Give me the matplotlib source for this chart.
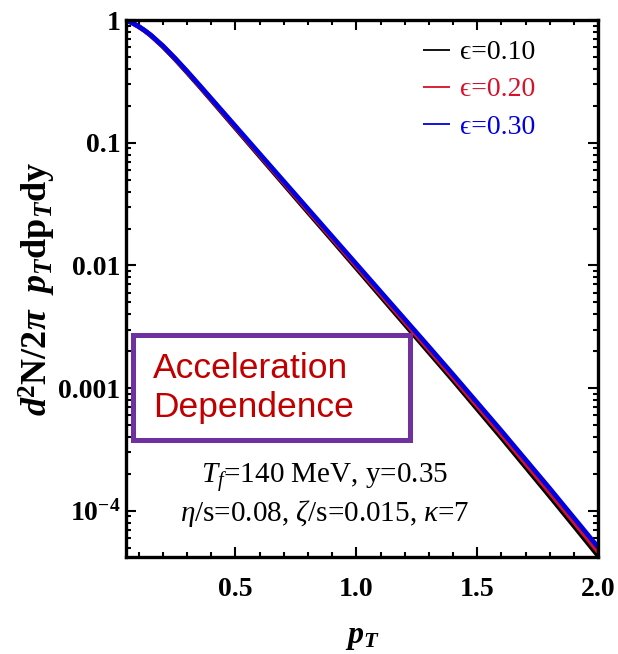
import matplotlib
matplotlib.use("Agg")
import numpy as np
import matplotlib.pyplot as plt
from matplotlib.patches import Rectangle
from matplotlib.ticker import FixedLocator, MultipleLocator, LogLocator, NullFormatter, FixedFormatter

plt.rcParams["mathtext.fontset"] = "custom"
plt.rcParams["mathtext.rm"] = "Liberation Serif"
plt.rcParams["mathtext.it"] = "Liberation Serif:italic"
plt.rcParams["mathtext.bf"] = "Liberation Serif:bold"
plt.rcParams["mathtext.bfit"] = "Liberation Serif:italic:bold"

# transverse momentum grid (GeV)
pt = [0.05, 0.075, 0.10, 0.125, 0.15, 0.20, 0.25, 0.30, 0.35, 0.40,
      0.50, 0.60, 0.70, 0.80, 0.90, 1.00, 1.10, 1.20, 1.30, 1.40,
      1.50, 1.60, 1.70, 1.80, 1.90, 2.00]

# log10 of the normalised spectrum for each acceleration parameter
log_eps_010 = [0.0, -0.023, -0.052, -0.085, -0.124, -0.214, -0.316, -0.425, -0.536, -0.650,
               -0.879, -1.108, -1.337, -1.566, -1.793, -2.022, -2.251, -2.480, -2.709, -2.938,
               -3.172, -3.406, -3.645, -3.884, -4.126, -4.370]
log_eps_020 = [0.0, -0.023, -0.051, -0.084, -0.122, -0.211, -0.312, -0.420, -0.531, -0.644,
               -0.871, -1.098, -1.325, -1.552, -1.778, -2.005, -2.232, -2.459, -2.686, -2.914,
               -3.146, -3.378, -3.615, -3.852, -4.093, -4.335]
log_eps_030 = [0.0, -0.023, -0.050, -0.083, -0.120, -0.208, -0.308, -0.415, -0.526, -0.638,
               -0.863, -1.088, -1.313, -1.538, -1.763, -1.988, -2.213, -2.438, -2.663, -2.890,
               -3.120, -3.350, -3.585, -3.820, -4.060, -4.300]

series_labels = ["\u03f5=0.10", "\u03f5=0.20", "\u03f5=0.30"]
series_colors = ["#000000", "#d8102a", "#0000e0"]

x_ticks = [0.5, 1.0, 1.5, 2.0]
x_tick_labels = ["0.5", "1.0", "1.5", "2.0"]
y_ticks = [1e-4, 1e-3, 1e-2, 1e-1, 1.0]
y_tick_labels = [r"$\mathbf{10^{-4}}$", "0.001", "0.01", "0.1", "1"]

fig = plt.figure(figsize=(6.18, 6.54), dpi=100)
ax = fig.add_axes([0.204, 0.148, 0.764, 0.821])

for logs, lab, col in zip([log_eps_010, log_eps_020, log_eps_030], series_labels, series_colors):
    ax.plot(pt, np.power(10.0, logs), color=col, lw=3.4, label=lab,
            solid_capstyle="butt", solid_joinstyle="round")

ax.set_yscale("log")
ax.set_xlim(0.048, 2.0)
ax.set_ylim(10 ** -4.38, 1.0)

ax.xaxis.set_major_locator(FixedLocator(x_ticks))
ax.xaxis.set_major_formatter(FixedFormatter(x_tick_labels))
ax.xaxis.set_minor_locator(MultipleLocator(0.1))
ax.yaxis.set_major_locator(FixedLocator(y_ticks))
ax.yaxis.set_major_formatter(FixedFormatter(y_tick_labels))
ax.yaxis.set_minor_locator(LogLocator(base=10, subs=range(2, 10)))
ax.yaxis.set_minor_formatter(NullFormatter())

ax.tick_params(which="both", direction="in", top=True, right=True, width=1.5)
ax.tick_params(which="major", length=7)
ax.tick_params(which="minor", length=3.5)
ax.tick_params(axis="x", which="major", pad=14)
ax.tick_params(axis="y", which="major", pad=4)
for lbl in ax.get_xticklabels() + ax.get_yticklabels():
    lbl.set_fontfamily("Liberation Serif")
    lbl.set_fontweight("bold")
    lbl.set_fontsize(20)

for sp in ax.spines.values():
    sp.set_linewidth(2.4)

ax.set_xlabel(r"$\mathbfit{p}_{\mathbfit{T}}$", fontsize=23, labelpad=14)
ax.set_ylabel(r"$\mathbfit{d}^{\mathbf{2}}\mathbf{N/2}\mathbfit{\pi}\ \ \mathbfit{p}_{\mathbfit{T}}\mathbf{dp}_{\mathbfit{T}}\mathbf{dy}$",
              fontsize=26, labelpad=0)

leg = ax.legend(loc="upper right", bbox_to_anchor=(0.92, 1.01), frameon=False,
                prop={"family": ["Liberation Serif", "DejaVu Serif"], "size": 20},
                handlelength=1.0, handletextpad=0.35, labelspacing=0.42)
for line in leg.get_lines():
    line.set_linewidth(1.3)
for txt, col in zip(leg.get_texts(), series_colors):
    txt.set_color(col)

# highlighted box
ax.add_patch(Rectangle((0.0138, 0.2179), 0.588, 0.1964, transform=ax.transAxes,
                       fill=False, edgecolor="#7030a0", lw=3.6, zorder=5))
ax.text(0.057, 0.315, "Acceleration\nDependence", transform=ax.transAxes,
        fontfamily="Liberation Sans", fontsize=25.5, color="#c00000",
        va="center", ha="left", linespacing=1.2, zorder=6)

ax.text(0.42, 0.149, r"$T_f$=140 MeV, y=0.35", transform=ax.transAxes,
        fontfamily="Liberation Serif", fontsize=21, ha="center", va="center")
ax.text(0.42, 0.082, r"$\eta$/s=0.08, $\zeta$/s=0.015, $\kappa$=7", transform=ax.transAxes,
        fontfamily="Liberation Serif", fontsize=21, ha="center", va="center")

fig.savefig("out.png", dpi=100, facecolor="white")
